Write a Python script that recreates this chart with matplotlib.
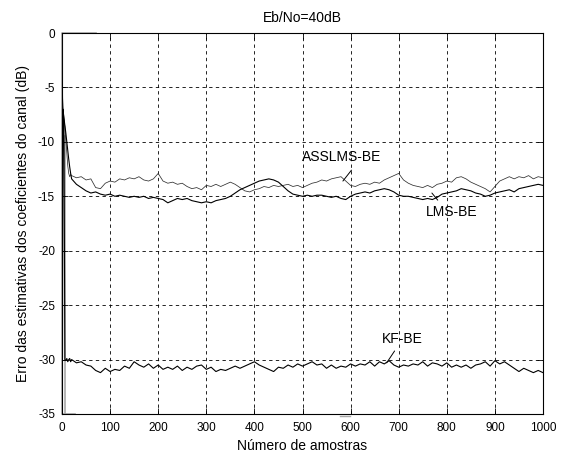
import numpy as np
import matplotlib
matplotlib.use("Agg")
import matplotlib.pyplot as plt

plt.rcParams['font.family'] = ['Liberation Sans', 'DejaVu Sans']

# Sample indices: dense during the initial transient, then every 10 samples
n_early = [0, 1, 2, 4, 6, 8, 10, 12, 14, 16, 18]
n_late = list(range(20, 1001, 10))

# Channel-estimate error (dB) for each estimator
asslms_early = [0.0, -6.5, -7.5, -8.0, -8.6, -9.8, -11.0, -12.2, -12.9, -13.2, -13.0]
asslms_late = [
    -13.1, -13.3, -13.2, -13.5, -13.4, -14.2, -14.3, -13.8, -13.6, -13.7,
    -13.4, -13.5, -13.3, -13.4, -13.2, -13.5, -13.6, -13.4, -12.9, -13.6,
    -13.8, -13.7, -13.9, -13.8, -14.1, -14.3, -14.2, -14.4, -14.0, -14.1,
    -13.9, -14.1, -13.9, -13.7, -13.9, -14.2, -14.5, -14.6, -14.4, -14.3,
    -14.1, -14.2, -14.0, -14.1, -14.0, -13.9, -14.1, -14.0, -14.2, -14.0,
    -13.8, -13.7, -13.5, -13.6, -13.4, -13.3, -13.2, -13.6, -14.0, -14.1,
    -13.9, -13.8, -13.9, -13.7, -13.8, -13.5, -13.3, -13.1, -12.9, -13.5,
    -13.8, -14.0, -14.1, -14.2, -14.0, -14.2, -13.9, -13.8, -13.6, -13.7,
    -13.3, -13.2, -13.4, -13.7, -13.9, -14.1, -14.3, -14.6, -14.1, -13.6,
    -13.4, -13.2, -13.4, -13.2, -13.3, -13.1, -13.4, -13.2, -13.3,
]

lms_early = [0.0, -6.0, -7.0, -7.8, -8.5, -9.2, -10.0, -10.8, -11.6, -12.3, -12.9]
lms_late = [
    -13.4, -13.9, -14.2, -14.5, -14.7, -14.6, -14.8, -14.9, -14.8, -15.0,
    -14.9, -15.0, -15.1, -15.0, -15.1, -15.0, -15.2, -15.1, -15.2, -15.3,
    -15.6, -15.4, -15.2, -15.3, -15.2, -15.4, -15.5, -15.6, -15.5, -15.6,
    -15.4, -15.3, -15.2, -15.0, -14.7, -14.4, -14.2, -14.0, -13.8, -13.6,
    -13.5, -13.4, -13.5, -13.7, -14.1, -14.5, -14.8, -14.9, -15.0, -14.9,
    -15.0, -14.9, -14.9, -15.0, -15.1, -15.0, -15.2, -15.3, -15.0, -14.8,
    -14.7, -14.6, -14.7, -14.5, -14.4, -14.3, -14.4, -14.6, -14.9, -15.0,
    -15.0, -15.1, -15.2, -15.3, -15.2, -15.3, -15.1, -14.8, -14.7, -14.6,
    -14.5, -14.3, -14.4, -14.5, -14.7, -14.8, -15.0, -14.9, -14.7, -14.6,
    -14.5, -14.4, -14.6, -14.3, -14.2, -14.1, -14.0, -13.9, -14.0,
]

kf_early = [-27.5, -29.8, -7.0, -8.0, -30.0, -30.1, -29.9, -30.2, -30.0, -29.9, -30.2]
kf_late = [
    -30.0, -30.3, -30.2, -30.5, -30.6, -31.0, -31.2, -30.8, -31.1, -30.9,
    -31.0, -30.6, -30.8, -30.2, -30.5, -30.7, -30.4, -30.8, -30.5, -30.9,
    -30.7, -30.9, -30.6, -31.0, -30.7, -30.9, -30.6, -30.5, -30.9, -30.7,
    -31.1, -30.9, -31.0, -30.8, -30.6, -30.8, -30.6, -30.4, -30.2, -30.5,
    -30.7, -30.9, -31.1, -30.7, -30.8, -30.5, -30.7, -30.4, -30.6, -30.4,
    -30.2, -30.5, -30.4, -30.8, -30.5, -30.8, -30.6, -30.7, -30.4, -30.6,
    -30.4, -30.5, -30.2, -30.6, -30.2, -30.4, -30.1, -30.5, -30.7, -30.5,
    -30.6, -30.4, -30.5, -30.2, -30.6, -30.3, -30.4, -30.6, -30.3, -30.7,
    -30.5, -30.7, -30.5, -30.8, -30.5, -30.4, -30.2, -30.6, -30.1, -30.4,
    -30.2, -30.5, -30.8, -31.1, -30.8, -31.0, -31.2, -31.0, -31.2,
]

# Light grey residual traces along the frame
grey_n = [70, 0, 0, 28]
grey_db = [0.0, 0.0, -35.0, -35.0]
grey2_n = [6, 6]
grey2_db = [-9.5, -35.0]
grey3_n = [578, 599]
grey3_db = [-35.15, -35.15]

xticks = list(range(0, 1001, 100))
yticks = list(range(-35, 1, 5))

n = np.array(n_early + n_late)
asslms = np.array(asslms_early + asslms_late)
lms = np.array(lms_early + lms_late)
kf = np.array(kf_early + kf_late)

fig = plt.figure(figsize=(5.61, 4.54), dpi=100)
ax = fig.add_axes([62 / 561, 1 - 414 / 454, (543 - 62) / 561, (414 - 33) / 454])

grey = '#a8a8a8'
ax.plot(grey_n, grey_db, color=grey, lw=1.2, clip_on=False, zorder=1)
ax.plot(grey2_n, grey2_db, color=grey, lw=1.2, zorder=1)
ax.plot(grey3_n, grey3_db, color=grey, lw=1.0, clip_on=False, zorder=1)

ax.plot(n, asslms, color='#303030', lw=0.55, zorder=3)
ax.plot(n, lms, color='black', lw=0.8, zorder=3)
ax.plot(n, kf, color='black', lw=0.8, zorder=3)

ax.set_xlim(0, 1000)
ax.set_ylim(-35, 0)
ax.set_xticks(xticks)
ax.set_yticks(yticks)
ax.set_xticklabels([str(v) for v in xticks])
ax.set_yticklabels([str(v) for v in yticks])
ax.tick_params(direction='in', length=4, width=0.6, labelsize=8.5,
               top=True, right=True)
ax.tick_params(axis='x', pad=6)
ax.tick_params(axis='y', pad=5)
ax.grid(True, color='black', linestyle=(0, (4, 4)), linewidth=0.6)
for s in ax.spines.values():
    s.set_linewidth(0.8)

ax.set_title('Eb/No=40dB', fontsize=10, pad=8)
ax.set_xlabel('Número de amostras', fontsize=10, labelpad=3)
ax.set_ylabel('Erro das estimativas dos coeficientes do canal (dB)',
              fontsize=10, labelpad=6)

ax.annotate('ASSLMS-BE', xy=(584, -13.6), xytext=(582, -11.4),
            ha='center', va='center', fontsize=10,
            arrowprops=dict(arrowstyle='-', color='black', lw=0.7,
                            shrinkA=3, shrinkB=0, relpos=(0.68, 0.0)))
ax.annotate('LMS-BE', xy=(769, -14.7), xytext=(811, -16.45),
            ha='center', va='center', fontsize=10,
            arrowprops=dict(arrowstyle='-', color='black', lw=0.7,
                            shrinkA=2, shrinkB=0, relpos=(0.3, 1.0)))
ax.annotate('KF-BE', xy=(675, -30.3), xytext=(707, -28.1),
            ha='center', va='center', fontsize=10,
            arrowprops=dict(arrowstyle='-', color='black', lw=0.7,
                            shrinkA=2, shrinkB=0, relpos=(0.4, 0.0)))

fig.savefig('out.png', dpi=100)
